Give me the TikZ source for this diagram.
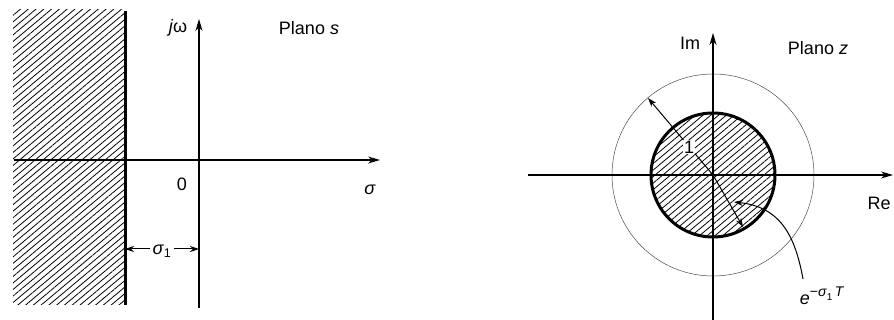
\documentclass[tikz,border=0pt]{standalone}
\usepackage{fontspec}
\setmainfont{Liberation Sans}
\usetikzlibrary{patterns.meta,arrows.meta}
\begin{document}
\begin{tikzpicture}[x=1pt,y=-1pt,
  axis/.style={line width=1.1pt,-{Stealth[length=12pt,width=7pt]}},
  hatch/.style={pattern={Lines[angle=40,distance=5pt,line width=0.8pt]}},
  lbl/.style={font=\fontsize{18}{20}\selectfont, inner sep=0pt},
  thinarrow/.style={line width=1pt,-{Stealth[length=9pt,width=6pt]}},
  bound/.style={line width=3pt}]
\useasboundingbox[fill=white] (0,0) rectangle (894,320);

% ---------- s-plane ----------
\fill[hatch] (13,10) rectangle (125,305);
\coordinate (bt) at (125,11);
\coordinate (bb) at (125,305);
\draw[bound] (bt) -- (bb);
\coordinate (hl) at (14,160);
\coordinate (hr) at (380,160);
\draw[axis] (hl) -- (hr);
\coordinate (vb) at (199,308);
\coordinate (vt) at (199,19);
\draw[axis] (vb) -- (vt);
\node[lbl] (jw) at (178,28) {\textit{j}ω};
\node[lbl] (ps) at (309,28) {Plano \textit{s}};
\node[lbl] (zero) at (182,184) {0};
\node[lbl] (sig) at (370,190) {\textit{σ}};
\node[lbl] (s1) at (162,251) {\textit{σ}\textsubscript{1}};
\coordinate (d1) at (125,249);
\coordinate (d2) at (199,249);
\draw[thinarrow] (s1.west) ++(-2,-2) -- (d1);
\draw[thinarrow] (s1.east) ++(2,-2) -- (d2);

% ---------- z-plane ----------
\coordinate (c) at (713,175);
\fill[hatch] (c) circle[radius=62];
\draw[line width=0.5pt, black!70] (c) circle[radius=101];
\coordinate (rl) at (528,175);
\coordinate (rr) at (893,175);
\draw[axis] (rl) -- (rr);
\coordinate (ib) at (713,320);
\coordinate (it) at (713,33);
\draw[axis] (ib) -- (it);
\draw[bound] (c) circle[radius=62];
\node[lbl] (im) at (690,43) {Im};
\node[lbl] (pz) at (818,48) {Plano \textit{z}};
\node[lbl] (re) at (879,203) {Re};
\path (c) ++(-65,-77) coordinate (ro);
\draw[thinarrow] (c) -- (ro);
\node[lbl, fill=white, inner sep=1pt] (one) at (689,147) {1};
\path (c) ++(30,52) coordinate (ri);
\draw[thinarrow] (c) -- (ri);
\node[lbl] (et) at (822,296) {\textit{e}\raisebox{0.45em}{\fontsize{14}{15}\selectfont −\textit{σ}\raisebox{-0.25em}{\fontsize{10}{11}\selectfont 1}\,\textit{T}}};
\coordinate (ls) at (803,279);
\coordinate (le) at (734,202);
\draw[thinarrow] (ls) .. controls (795,235) and (780,207) .. (le);
\end{tikzpicture}
\end{document}
